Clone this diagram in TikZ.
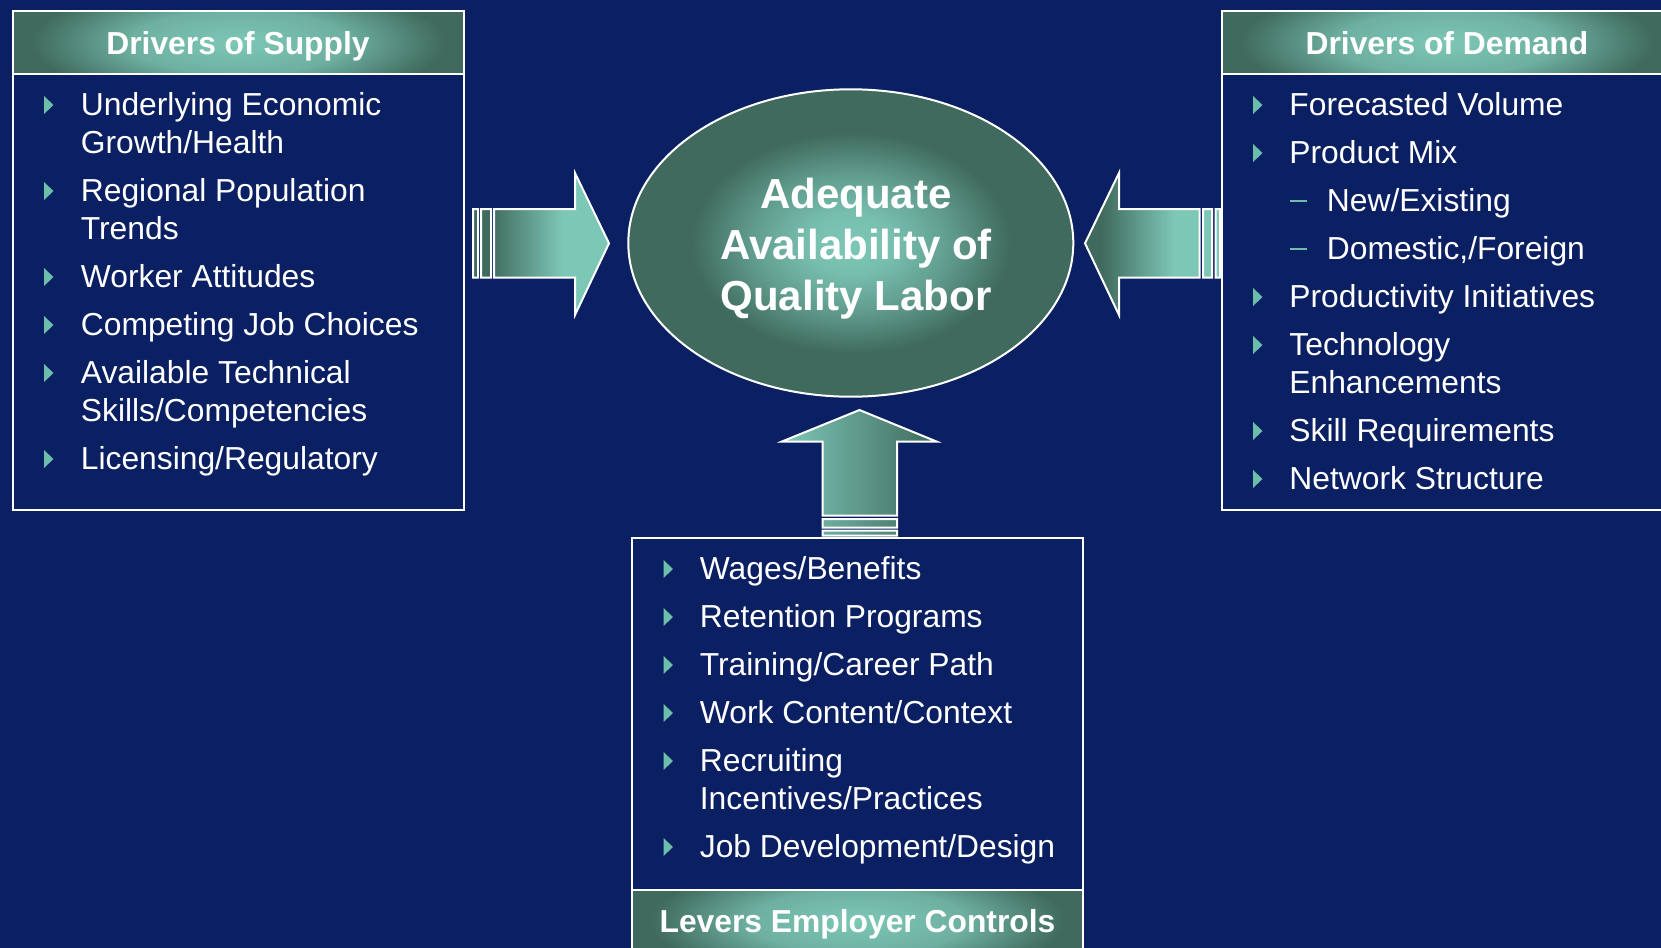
\documentclass[tikz,border=0pt]{standalone}
\usepackage{fontspec}
\setmainfont{Liberation Sans}
\usetikzlibrary{shapes.geometric}

\definecolor{navy}{RGB}{11,31,99}
\definecolor{tealL}{RGB}{125,199,183}
\definecolor{tealD}{RGB}{63,106,93}
\definecolor{mint}{RGB}{108,190,170}

\pgfdeclareradialshading{headglow}{\pgfpointorigin}{color(0bp)=(tealL); color(12bp)=(tealL!75!tealD); color(23bp)=(tealD); color(50bp)=(tealD)}
\pgfdeclareradialshading{coreglow}{\pgfpointorigin}{color(0bp)=(tealL); color(5bp)=(tealL!90!tealD); color(11bp)=(tealL!55!tealD); color(18bp)=(tealD); color(50bp)=(tealD)}
\pgfdeclarehorizontalshading{shaftglow}{100bp}{color(0bp)=(tealD); color(31bp)=(tealD); color(58bp)=(tealL); color(100bp)=(tealL)}

\tikzset{
  frame/.style={draw=white, line width=1pt},
  blockarrow/.style={frame, line join=miter, shade, shading=shaftglow},
  itemtext/.style={anchor=base west, inner sep=0pt, text=white, font=\fontsize{15.9}{19}\selectfont},
  headline/.style={anchor=base, inner sep=0pt, text=white, font=\fontsize{15.9}{19}\bfseries\selectfont},
  chevron/.pic={\fill[mint] (0,-19) -- (0,-1) -- (9.5,-10) -- cycle;}
}

\begin{document}
\begin{tikzpicture}[x=0.5pt, y=-0.5pt]
    \def \boxw {451}
    \useasboundingbox (0,0) rectangle (1661,948);
    \fill[navy] (0,0) rectangle (1661,948);
    \clip (0,0) rectangle (1661,948);

    % panels: glowing header band (stretched taller, then clipped), then the white frame
    \foreach \hx/\hy in {12.5/10.5, 1221.5/10.5, 632/889.5}
    {
      \begin{scope}
        \clip (\hx,\hy) rectangle +(\boxw,63.5);
        \shade[shading=headglow] (\hx,\hy-35) rectangle +(\boxw,133.5);
      \end{scope}
    }
    \draw[frame] (12.5,10.5) rectangle +(\boxw,499) (12.5,73.5) -- +(\boxw,0);
    \draw[frame] (1221.5,10.5) rectangle +(\boxw,499) (1221.5,73.5) -- +(\boxw,0);
    \draw[frame] (632,538) rectangle +(\boxw,415) (632,889.5) -- +(\boxw,0);

    \node[headline] (supply) at (238,54) {Drivers of Supply};
    \node[headline] (demand) at (1447,54) {Drivers of Demand};
    \node[headline] (levers) at (857.5,932) {Levers Employer Controls};

    % centre oval
    \node[ellipse, frame, shade, shading=coreglow, inner sep=0pt,
          minimum width=222.5pt, minimum height=153.7pt] (core) at (850.8,243) {};
    \node[text=white, align=center, font=\fontsize{21}{25.5}\bfseries\selectfont]
          (corelabel) at (856,249) {Adequate\\Availability of\\Quality Labor};

    % block arrows with their two tail bars
    \draw[blockarrow] (473,209) rectangle (478,277.5) (481,209) rectangle (491,277.5)
      (494,209) -- (575,209) -- (575,173) -- (609,243.3) -- (575,315) -- (575,277.5) -- (494,277.5) -- cycle;
    \draw[blockarrow] (1215.5,209) rectangle (1220,277.5) (1203,209) rectangle (1212,277.5)
      (1199.5,209) -- (1119,209) -- (1119,173) -- (1085,243.3) -- (1119,315) -- (1119,277.5) -- (1199.5,277.5) -- cycle;
    \draw[frame, line join=miter, left color=tealL, right color=tealD]
      (822.5,530.5) rectangle (897,535.5) (822.5,519) rectangle (897,527.5)
      (822.5,515.5) -- (822.5,441.5) -- (782,441.5) -- (859.5,410) -- (936.5,441.5) -- (897,441.5) -- (897,515.5) -- cycle;

    % supply list
    \foreach \y/\txt [count=\i] in {115/Underlying Economic, 153/{Growth/Health},
        201/Regional Population, 239/Trends, 287/Worker Attitudes, 335/Competing Job Choices,
        383/Available Technical, 421/{Skills/Competencies}, 469/{Licensing/Regulatory}}
      \node[itemtext] (sup\i) at (80.5,\y) {\txt};
    \foreach \y in {115,201,287,335,383,469}
      \pic at (44,\y) {chevron};

    % demand list
    \foreach \x/\y/\txt [count=\i] in {1289/115/Forecasted Volume, 1289/163/Product Mix,
        1326.5/211/{New/Existing}, 1326.5/259/{Domestic,/Foreign}, 1289/307/Productivity Initiatives,
        1289/355/Technology, 1289/393/Enhancements, 1289/441/Skill Requirements, 1289/489/Network Structure}
      \node[itemtext] (dem\i) at (\x,\y) {\txt};
    \foreach \y in {115,163,307,355,441,489}
      \pic at (1253,\y) {chevron};
    \foreach \y in {201,249}
      \draw[mint, line width=1pt] (1290,\y) -- (1306.5,\y);

    % lever list
    \foreach \y/\txt [count=\i] in {579/{Wages/Benefits}, 627/Retention Programs,
        675/{Training/Career Path}, 723/{Work Content/Context}, 771/Recruiting,
        809/{Incentives/Practices}, 857/{Job Development/Design}}
      \node[itemtext] (lev\i) at (699.5,\y) {\txt};
    \foreach \y in {579,627,675,723,771,857}
      \pic at (663.5,\y) {chevron};
\end{tikzpicture}
\end{document}
